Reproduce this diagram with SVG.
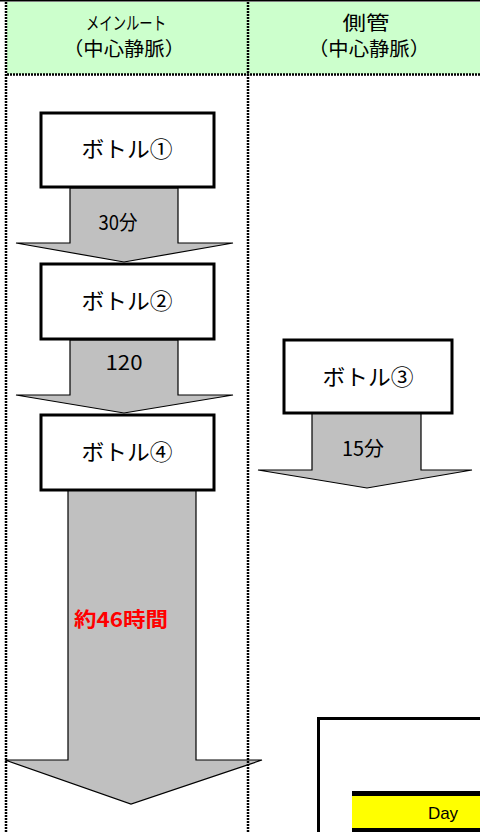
<svg xmlns="http://www.w3.org/2000/svg" width="480" height="832" viewBox="0 0 480 832">
<style>
.jp{font-family:"Noto Sans CJK JP","Noto Sans",sans-serif;fill:#000}
.box{fill:#fff;stroke:#000;stroke-width:3}
.arr{fill:#c0c0c0;stroke:#000;stroke-width:1.2;stroke-linejoin:miter}
.dot{stroke:#000;stroke-width:2.5;stroke-dasharray:2 1;fill:none}
</style>
<rect x="0" y="0" width="480" height="832" fill="#fff"/>
<g id="header">
<rect x="7" y="2" width="473" height="72" fill="#ccffcc"/>
<line x1="0" y1="0.75" x2="480" y2="0.75" stroke="#000" stroke-width="1.5"/>
<text class="jp" x="126" y="30" font-size="18" text-anchor="middle" textLength="80" lengthAdjust="spacingAndGlyphs">メインルート</text>
<text class="jp" x="124" y="56" font-size="19" text-anchor="middle" textLength="122" lengthAdjust="spacingAndGlyphs">（中心静脈）</text>
<text class="jp" x="366" y="30" font-size="19" text-anchor="middle" textLength="47" lengthAdjust="spacingAndGlyphs">側管</text>
<text class="jp" x="369" y="56" font-size="19" text-anchor="middle" textLength="122" lengthAdjust="spacingAndGlyphs">（中心静脈）</text>
</g>
<g id="connectors">
<polygon class="arr" points="70,188 178,188 178,243 233,243 124,262 16,243 70,243"/>
<text class="jp" x="118" y="230" font-size="20" text-anchor="middle" textLength="39" lengthAdjust="spacingAndGlyphs">30分</text>
<polygon class="arr" points="70,340 178,340 178,395 233,395 124,413 16,395 70,395"/>
<text class="jp" x="124" y="370" font-size="20" text-anchor="middle" textLength="37" lengthAdjust="spacingAndGlyphs">120</text>
<polygon class="arr" points="312,413 421,413 421,470 472,470 367,488 258,470 312,470"/>
<text class="jp" x="363" y="456" font-size="20" text-anchor="middle" textLength="42" lengthAdjust="spacingAndGlyphs">15分</text>
<polygon class="arr" points="68,490 196,490 196,760 262,760 131,804 5,760 68,760"/>
<text x="74" y="627" font-family="'Noto Sans CJK JP','Noto Sans',sans-serif" font-size="20" font-weight="bold" fill="#ff0000" textLength="94" lengthAdjust="spacingAndGlyphs">約46時間</text>
</g>
<g id="bottle1">
<rect class="box" x="41" y="113" width="173" height="74"/>
<text class="jp" x="127" y="157" font-size="22" text-anchor="middle" textLength="91" lengthAdjust="spacingAndGlyphs">ボトル①</text>
</g>
<g id="bottle2">
<rect class="box" x="41" y="264" width="173" height="75"/>
<text class="jp" x="127" y="309" font-size="22" text-anchor="middle" textLength="91" lengthAdjust="spacingAndGlyphs">ボトル②</text>
</g>
<g id="bottle4">
<rect class="box" x="41" y="415" width="173" height="75"/>
<text class="jp" x="127" y="460" font-size="22" text-anchor="middle" textLength="91" lengthAdjust="spacingAndGlyphs">ボトル④</text>
</g>
<g id="bottle3">
<rect class="box" x="284" y="340" width="168" height="73"/>
<text class="jp" x="368" y="385" font-size="22" text-anchor="middle" textLength="91" lengthAdjust="spacingAndGlyphs">ボトル③</text>
</g>
<g id="lines">
<line class="dot" x1="6" y1="2" x2="6" y2="832"/>
<line class="dot" x1="248" y1="2" x2="248" y2="832"/>
<line class="dot" x1="7" y1="74.5" x2="480" y2="74.5"/>
</g>
<g id="day-panel">
<path d="M318.5,833 V718.5 H481" fill="#fff" stroke="#000" stroke-width="3"/>
<rect x="352" y="791" width="128" height="41" fill="#000"/>
<rect x="352" y="796" width="128" height="32" fill="#ffff00"/>
<text x="443" y="819" font-family="'Liberation Sans',Arial,sans-serif" font-size="17" text-anchor="middle" fill="#000">Day</text>
</g>
</svg>
